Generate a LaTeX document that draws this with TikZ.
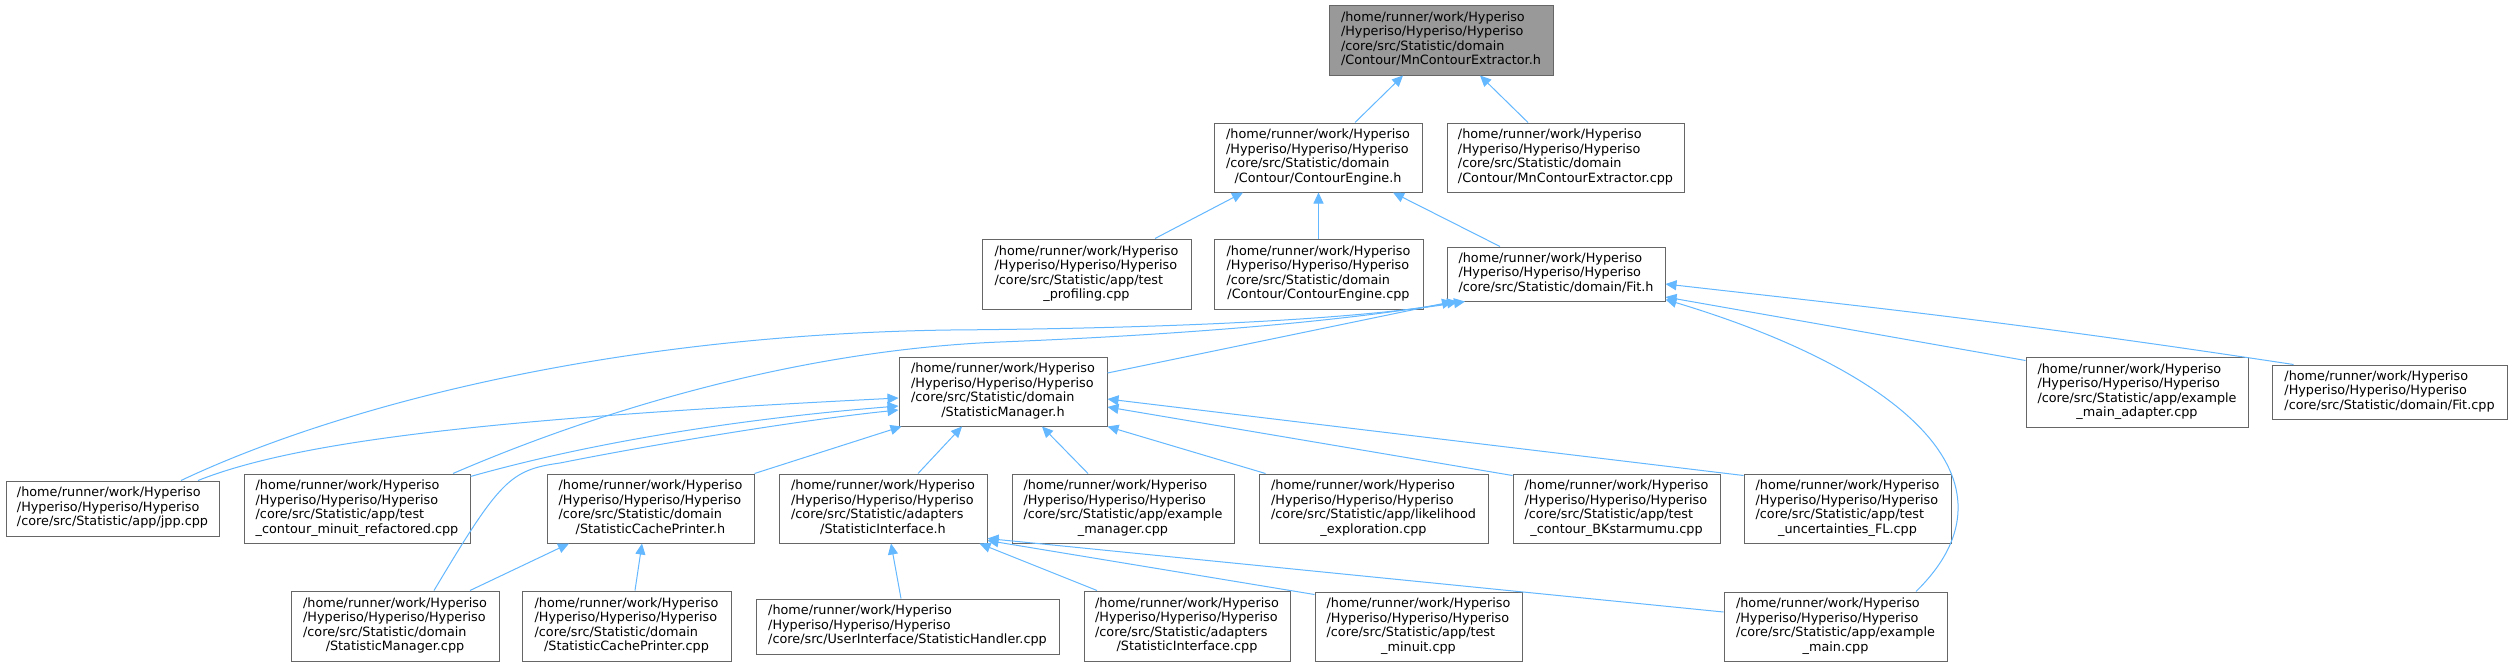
\documentclass[tikz,border=0pt]{standalone}
\usepackage{fontspec}
\setmainfont{DejaVu Sans}
\usetikzlibrary{arrows.meta}
\definecolor{edgeblue}{HTML}{63B8FF}
\definecolor{boxgray}{HTML}{666666}
\definecolor{rootfill}{HTML}{999999}
\newcommand\hpre{/home/runner/work/Hyperiso\\/Hyperiso/Hyperiso/Hyperiso\\}
\newcommand\dlab[2]{\begin{tabular}{@{}l@{}}\hpre#1\multicolumn{1}{@{}c@{}}{#2}\end{tabular}}
\tikzset{
  box/.style={draw=boxgray, line width=1pt, fill=white, inner sep=0pt,
    font=\fontsize{12.8}{14.5}\selectfont},
  rootbox/.style={box, fill=rootfill},
  inc/.style={draw=edgeblue, line width=1pt, -{Triangle[length=11pt,width=10pt]}},
}
\begin{document}
\begin{tikzpicture}[x=1pt,y=-1pt]
\fill[white] (0,0) rectangle (2512,667);
\useasboundingbox (0,0) rectangle (2512,667);

% nodes
\node[rootbox, minimum width=224pt, minimum height=70pt] (root) at (1441,40) {\dlab{/core/src/Statistic/domain\\}{/Contour/MnContourExtractor.h}};
\node[box, minimum width=208pt, minimum height=69pt] (ceh) at (1318,157.5) {\dlab{/core/src/Statistic/domain\\}{/Contour/ContourEngine.h}};
\node[box, minimum width=237pt, minimum height=69pt] (mncpp) at (1565.5,157.5) {\dlab{/core/src/Statistic/domain\\}{/Contour/MnContourExtractor.cpp}};
\node[box, minimum width=209pt, minimum height=70pt] (prof) at (1086.5,274) {\dlab{/core/src/Statistic/app/test\\}{\_profiling.cpp}};
\node[box, minimum width=209pt, minimum height=70pt] (cecpp) at (1318.5,274) {\dlab{/core/src/Statistic/domain\\}{/Contour/ContourEngine.cpp}};
\node[box, minimum width=218pt, minimum height=54pt] (fith) at (1556,274) {\dlab{}{/core/src/Statistic/domain/Fit.h}};
\node[box, minimum width=208pt, minimum height=69pt] (smh) at (1003,391.5) {\dlab{/core/src/Statistic/domain\\}{/StatisticManager.h}};
\node[box, minimum width=222pt, minimum height=70pt] (adapter) at (2137,392) {\dlab{/core/src/Statistic/app/example\\}{\_main\_adapter.cpp}};
\node[box, minimum width=235pt, minimum height=54pt] (fitcpp) at (2389.5,392) {\dlab{}{/core/src/Statistic/domain/Fit.cpp}};
\node[box, minimum width=213pt, minimum height=55pt] (jpp) at (112.5,508.5) {\dlab{}{/core/src/Statistic/app/jpp.cpp}};
\node[box, minimum width=226pt, minimum height=69pt] (refac) at (357,508.5) {\dlab{/core/src/Statistic/app/test\\}{\_contour\_minuit\_refactored.cpp}};
\node[box, minimum width=207pt, minimum height=69pt] (scph) at (650.5,508.5) {\dlab{/core/src/Statistic/domain\\}{/StatisticCachePrinter.h}};
\node[box, minimum width=208pt, minimum height=69pt] (sih) at (883,508.5) {\dlab{/core/src/Statistic/adapters\\}{/StatisticInterface.h}};
\node[box, minimum width=222pt, minimum height=69pt] (exman) at (1123,508.5) {\dlab{/core/src/Statistic/app/example\\}{\_manager.cpp}};
\node[box, minimum width=229pt, minimum height=69pt] (likeli) at (1373.5,508.5) {\dlab{/core/src/Statistic/app/likelihood\\}{\_exploration.cpp}};
\node[box, minimum width=207pt, minimum height=69pt] (bk) at (1616.5,508.5) {\dlab{/core/src/Statistic/app/test\\}{\_contour\_BKstarmumu.cpp}};
\node[box, minimum width=207pt, minimum height=69pt] (fl) at (1847.5,508.5) {\dlab{/core/src/Statistic/app/test\\}{\_uncertainties\_FL.cpp}};
\node[box, minimum width=208pt, minimum height=70pt] (smcpp) at (395,626) {\dlab{/core/src/Statistic/domain\\}{/StatisticManager.cpp}};
\node[box, minimum width=209pt, minimum height=70pt] (scpcpp) at (626.5,626) {\dlab{/core/src/Statistic/domain\\}{/StatisticCachePrinter.cpp}};
\node[box, minimum width=303pt, minimum height=55pt] (handler) at (907.5,626.5) {\dlab{}{/core/src/UserInterface/StatisticHandler.cpp}};
\node[box, minimum width=206pt, minimum height=70pt] (sicpp) at (1187,626) {\dlab{/core/src/Statistic/adapters\\}{/StatisticInterface.cpp}};
\node[box, minimum width=207pt, minimum height=69pt] (minuit) at (1418.5,626.5) {\dlab{/core/src/Statistic/app/test\\}{\_minuit.cpp}};
\node[box, minimum width=223pt, minimum height=69pt] (exmain) at (1835.5,626.5) {\dlab{/core/src/Statistic/app/example\\}{\_main.cpp}};

% edges
\draw[inc] ([xshift=37pt]ceh.north) -- ([xshift=-38pt]root.south);
\draw[inc] ([xshift=-37.5pt]mncpp.north) -- ([xshift=39pt]root.south);
\draw[inc] ([xshift=68.5pt]prof.north) -- ([xshift=-75pt]ceh.south);
\draw[inc] (cecpp.north) -- (cecpp.north |- ceh.south);
\draw[inc] ([xshift=-56pt]fith.north) -- ([xshift=75pt]ceh.south);

\draw[inc] ([xshift=68.5pt]jpp.north) .. controls (330,410) and (600,335) .. (950,330) .. controls (1200,328) and (1360,318) .. ([xshift=-91pt]fith.south);
\draw[inc] ([xshift=96pt]refac.north) .. controls (600,410) and (800,350) .. (1000,342) .. controls (1200,334) and (1350,320) .. ([xshift=-98pt]fith.south);
\draw[inc] ([yshift=18.5pt]smh.east) -- ([xshift=-103pt]fith.south);
\draw[inc] ([yshift=-4pt]adapter.north west) -- ([yshift=-23pt]fith.east);
\draw[inc] ([xshift=22pt]fitcpp.north west) .. controls (2000,320) and (1850,305) .. ([yshift=-10pt]fith.east);
\draw[inc] ([xshift=80.5pt]exmain.north) .. controls (2030,480) and (1900,370) .. ([yshift=2pt]fith.south east);

\draw[inc] ([xshift=85.5pt]jpp.north) .. controls (300,440) and (500,418) .. ([yshift=-6.5pt]smh.west);
\draw[inc] ([yshift=-3pt]refac.north east) .. controls (600,440) and (750,418) .. ([yshift=-14.5pt]smh.west);
\draw[inc] ([xshift=39pt]smcpp.north) .. controls (500,480) and (510,470) .. (560,463) .. controls (650,445) and (800,420) .. ([yshift=-18.5pt]smh.west);
\draw[inc] (scph.north east) -- ([xshift=3pt]smh.south west);
\draw[inc] ([xshift=35pt]sih.north) -- ([xshift=-41pt]smh.south);
\draw[inc] ([xshift=-35pt]exman.north) -- ([xshift=39pt]smh.south);
\draw[inc] ([xshift=7pt]likeli.north west) -- (smh.south east);
\draw[inc] ([yshift=-2pt]bk.north west) -- ([yshift=-15.5pt]smh.east);
\draw[inc] ([yshift=-2pt]fl.north west) -- ([yshift=-7.5pt]smh.east);

\draw[inc] ([xshift=75pt]smcpp.north) -- ([xshift=-81.5pt]scph.south);
\draw[inc] ([xshift=8.5pt]scpcpp.north) -- ([xshift=-8.5pt]scph.south);
\draw[inc] ([xshift=-6.5pt]handler.north) -- ([xshift=8pt]sih.south);
\draw[inc] ([xshift=-90pt]sicpp.north) -- ([xshift=-8pt]sih.south east);
\draw[inc] ([yshift=-3pt]minuit.north west) -- ([yshift=3pt]sih.south east);
\draw[inc] ([yshift=14.5pt]exmain.west) -- ([yshift=5pt]sih.south east);
\end{tikzpicture}
\end{document}
